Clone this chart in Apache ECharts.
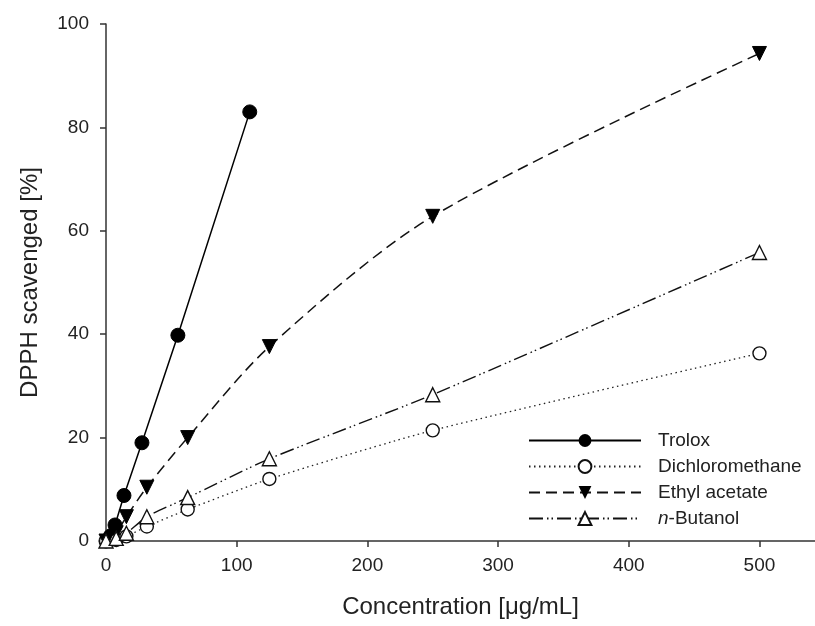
<!DOCTYPE html>
<html><head><meta charset="utf-8">
<script src="https://cdn.jsdelivr.net/npm/echarts@6/dist/echarts.min.js"></script>
<style>html,body{margin:0;padding:0;background:#fff}#c{width:815px;height:626px}</style>
</head><body><div id="c"></div>
<script>
const seriesNames = ['Trolox', 'Dichloromethane', 'Ethyl acetate', 'n-Butanol'];
const troloxX = [0, 3.4, 6.9, 13.75, 27.5, 55, 110];
const troloxY = [0, 1.0, 3.1, 8.8, 19.0, 39.8, 83.0];
const extractX = [0, 7.8, 15.6, 31.25, 62.5, 125, 250, 500];
const dcmY = [0, 0.2, 0.9, 2.8, 6.1, 12.0, 21.4, 36.3];
const eaY = [0, 1.6, 4.7, 10.4, 20.0, 37.6, 62.8, 94.3];
const buY = [0, 0.5, 1.5, 4.7, 8.4, 15.9, 28.3, 55.8];
const xTicks = [0, 100, 200, 300, 400, 500];
const yTicks = [0, 20, 40, 60, 80, 100];

const pair = (xs, ys) => xs.map((x, i) => [x, ys[i]]);
const font = 'Liberation Sans, Arial, sans-serif';

const chart = echarts.init(document.getElementById('c'));
chart.setOption({
  animation: false,
  backgroundColor: '#fff',
  grid: { left: 106, right: 0, top: 24, bottom: 85 },
  xAxis: {
    type: 'value', min: 0, max: 542.5, interval: 100,
    name: 'Concentration [\u03bcg/mL]', nameLocation: 'middle', nameGap: 54,
    nameTextStyle: { fontSize: 24, color: '#222', fontFamily: font },
    axisLine: { show: true, lineStyle: { color: '#333', width: 1.5 } },
    axisTick: { show: true, length: 6, lineStyle: { color: '#333', width: 1.5 } },
    axisLabel: { fontSize: 19, color: '#222', fontFamily: font, margin: 15, showMaxLabel: false,
      formatter: v => xTicks.includes(v) ? String(v) : '' },
    splitLine: { show: false }
  },
  yAxis: {
    type: 'value', min: 0, max: 100, interval: 20,
    name: 'DPPH scavenged [%]', nameLocation: 'middle', nameGap: 64, nameRotate: 90,
    nameTextStyle: { fontSize: 24, color: '#222', fontFamily: font },
    axisLine: { show: true, lineStyle: { color: '#333', width: 1.5 } },
    axisTick: { show: true, length: 6, lineStyle: { color: '#333', width: 1.5 } },
    axisLabel: { fontSize: 19, color: '#222', fontFamily: font, margin: 17,
      formatter: v => yTicks.includes(v) ? String(v) : '' },
    splitLine: { show: false }
  },
  legend: {
    orient: 'vertical', left: 523, top: 426, itemWidth: 112, itemHeight: 16, itemGap: 7,
    textStyle: { fontSize: 19, color: '#222', fontFamily: font, padding: [0, 0, 0, 12],
      rich: { i: { fontStyle: 'italic', fontSize: 19, fontFamily: font, color: '#222' },
              r: { fontSize: 19, fontFamily: font, color: '#222' } } },
    formatter: n => n === 'n-Butanol' ? '{i|n}{r|-Butanol}' : n,
    data: seriesNames
  },
  series: [
    { name: seriesNames[0], type: 'line', data: pair(troloxX, troloxY), clip: false,
      symbol: 'circle', symbolSize: 14,
      itemStyle: { color: '#000', borderColor: '#000' },
      lineStyle: { color: '#000', width: 1.5, type: 'solid' } },
    { name: seriesNames[1], type: 'line', data: pair(extractX, dcmY), clip: false, smooth: 0.2,
      symbol: 'circle', symbolSize: 13,
      itemStyle: { color: '#fff', borderColor: '#111', borderWidth: 1.4 },
      lineStyle: { color: '#222', width: 1.3, type: [1.5, 3.5] } },
    { name: seriesNames[2], type: 'line', data: pair(extractX, eaY), clip: false, smooth: 0.3,
      symbol: 'triangle', symbolRotate: 180, symbolSize: 14,
      itemStyle: { color: '#000', borderColor: '#000' },
      lineStyle: { color: '#111', width: 1.5, type: [11, 6] } },
    { name: seriesNames[3], type: 'line', data: pair(extractX, buY), clip: false, smooth: 0.2,
      symbol: 'triangle', symbolSize: 14,
      itemStyle: { color: '#fff', borderColor: '#111', borderWidth: 1.4 },
      lineStyle: { color: '#111', width: 1.4, type: [14, 4, 1.5, 3, 1.5, 4] } }
  ]
});
</script></body></html>
